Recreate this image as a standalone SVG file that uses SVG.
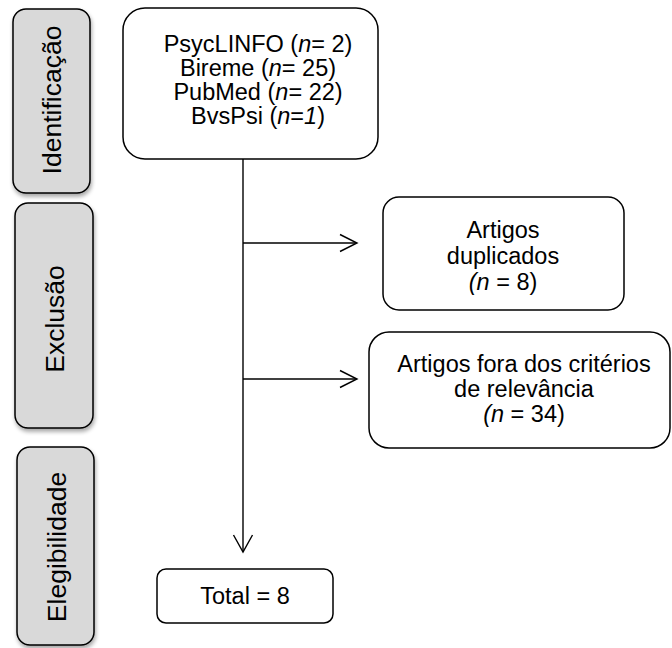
<svg xmlns="http://www.w3.org/2000/svg" width="672" height="648" viewBox="0 0 672 648">
<style>
.side{fill:#d9d9d9;stroke:#000;stroke-width:1.5;filter:url(#sh)}
.box{fill:#fff;stroke:#000;stroke-width:1.5}
.lbl{font-family:"Liberation Sans",Arial,sans-serif;font-size:26.5px;fill:#000;text-anchor:middle}
.t{font-family:"Liberation Sans",Arial,sans-serif;font-size:23.5px;fill:#000;text-anchor:middle}
.conn{fill:none;stroke:#000;stroke-width:1.4}
</style>
<defs>
<filter id="sh" x="-20%" y="-10%" width="150%" height="130%">
<feGaussianBlur in="SourceAlpha" stdDeviation="2"/>
<feOffset dx="1" dy="3" result="b"/>
<feComponentTransfer><feFuncA type="linear" slope="0.35"/></feComponentTransfer>
<feMerge><feMergeNode/><feMergeNode in="SourceGraphic"/></feMerge>
</filter>
</defs>
<rect width="672" height="648" fill="#fff"/>
<g id="identificacao">
<rect class="side" x="13" y="9" width="77" height="184" rx="13"/>
<text class="lbl" transform="translate(61,100) rotate(-90)">Identificação</text>
</g>
<g id="exclusao">
<rect class="side" x="15" y="203" width="78" height="225" rx="13"/>
<text class="lbl" transform="translate(64,319) rotate(-90)">Exclusão</text>
</g>
<g id="elegibilidade">
<rect class="side" x="17" y="447" width="77" height="198" rx="13"/>
<text class="lbl" transform="translate(66,547) rotate(-90)">Elegibilidade</text>
</g>
<g id="connectors">
<line class="conn" x1="243" y1="146" x2="243" y2="552"/>
<polyline class="conn" points="233.5,535 243,552 252.5,535"/>
<line class="conn" x1="243" y1="243" x2="356" y2="243"/>
<polyline class="conn" points="340,234.5 357,243 340,251.5"/>
<line class="conn" x1="243" y1="379" x2="356" y2="379"/>
<polyline class="conn" points="340,370.5 357,379 340,387.5"/>
</g>
<g id="bases">
<rect class="box" x="123" y="8" width="255" height="151" rx="22"/>
<text class="t" x="258" y="52">PsycLINFO (<tspan font-style="italic">n</tspan>= 2)</text>
<text class="t" x="258" y="76">Bireme (<tspan font-style="italic">n</tspan>= 25)</text>
<text class="t" x="258" y="100">PubMed (<tspan font-style="italic">n</tspan>= 22)</text>
<text class="t" x="258" y="124">BvsPsi (<tspan font-style="italic">n</tspan>=<tspan font-style="italic">1</tspan>)</text>
</g>
<g id="duplicados">
<rect class="box" x="383" y="197" width="241" height="113" rx="16"/>
<text class="t" x="503" y="238">Artigos</text>
<text class="t" x="503" y="264">duplicados</text>
<text class="t" x="503" y="290"><tspan font-style="italic">(n</tspan> = 8)</text>
</g>
<g id="criterios">
<rect class="box" x="369" y="332" width="301" height="116" rx="20"/>
<text class="t" x="524" y="372">Artigos fora dos critérios</text>
<text class="t" x="524" y="397">de relevância</text>
<text class="t" x="524" y="422"><tspan font-style="italic">(n</tspan> = 34)</text>
</g>
<g id="total">
<rect class="box" x="157" y="569" width="176" height="54" rx="9"/>
<text class="t" x="245" y="604">Total = 8</text>
</g>
</svg>
